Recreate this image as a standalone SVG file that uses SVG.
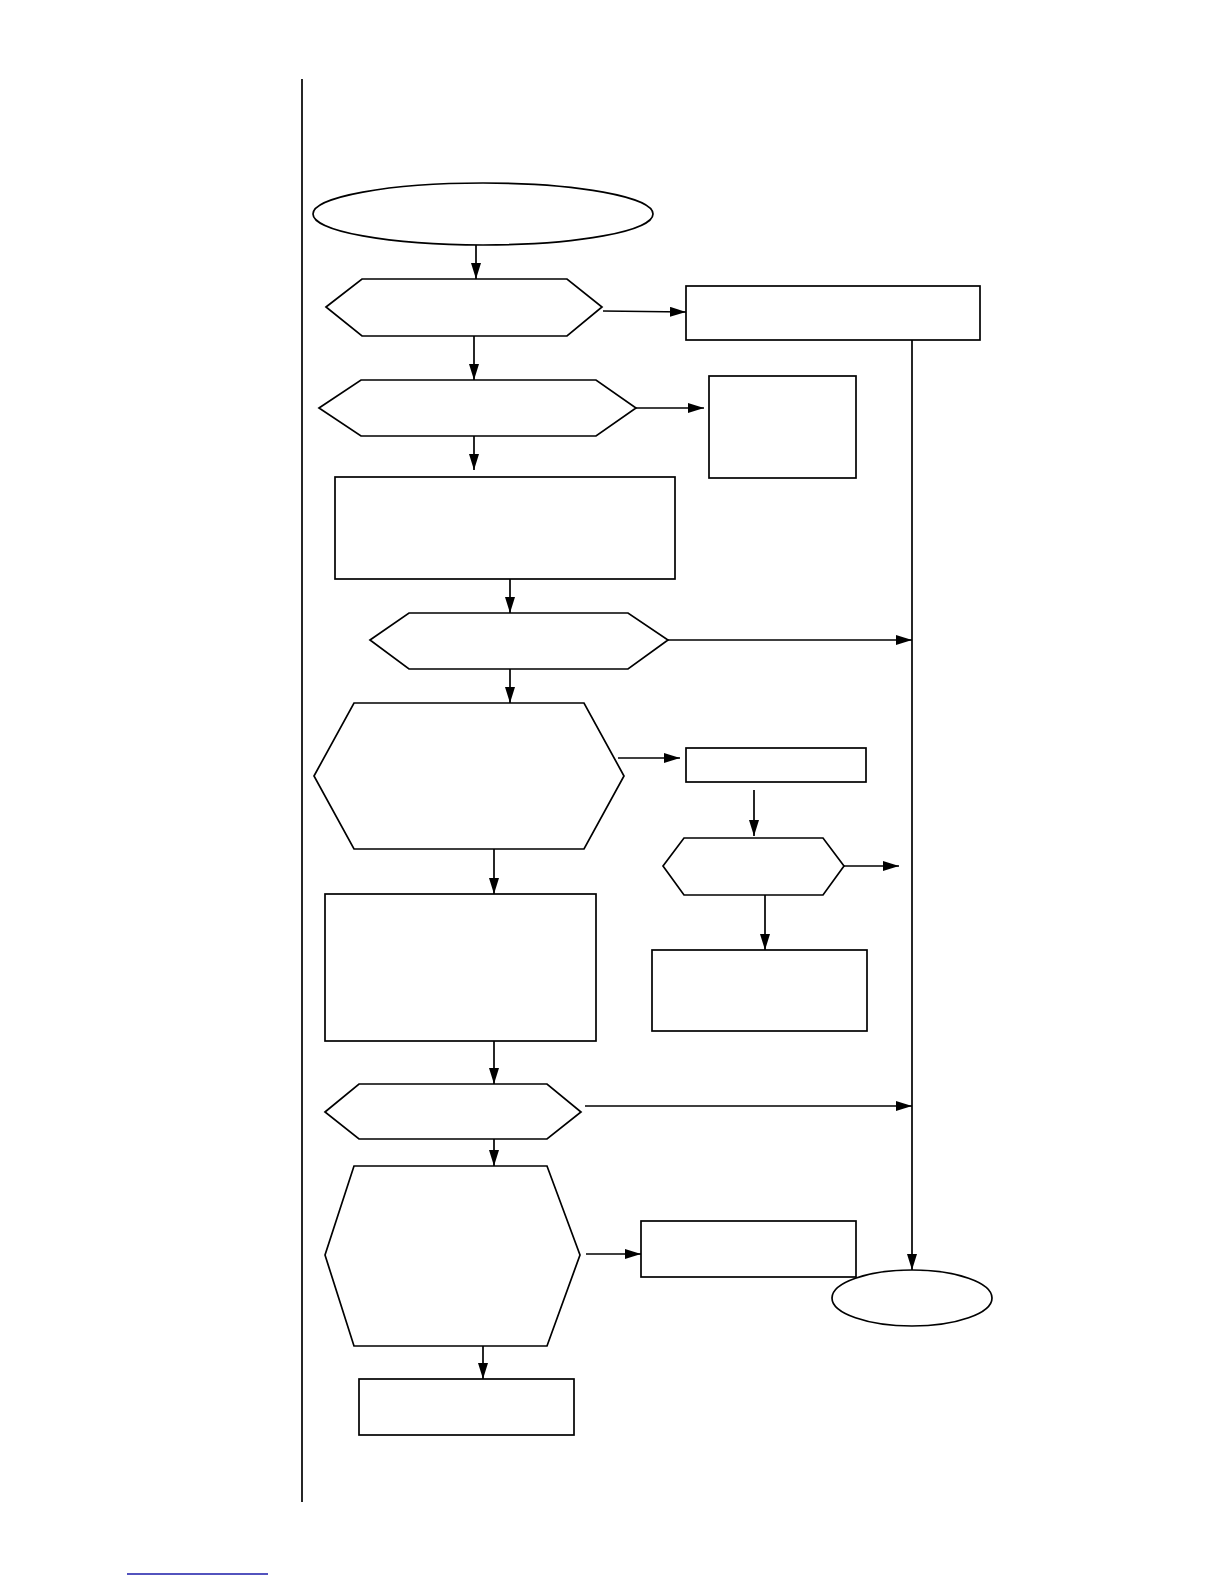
<svg xmlns="http://www.w3.org/2000/svg" width="1224" height="1584" viewBox="0 0 1224 1584">
<style>
.n{fill:#fff;stroke:#000;stroke-width:1.7}
.c{fill:none;stroke:#000;stroke-width:1.7}
</style>
<defs>
<marker id="ah" markerUnits="userSpaceOnUse" markerWidth="18" markerHeight="12" refX="16" refY="5" orient="auto">
<path d="M0,0 L16,5 L0,10 z" fill="#000"/>
</marker>
</defs>
<rect width="1224" height="1584" fill="#fff"/>
<line x1="302" y1="79" x2="302" y2="1502" stroke="#000" stroke-width="1.7"/>
<line x1="127" y1="1574" x2="268" y2="1574" stroke="#1a1aa8" stroke-width="1.3"/>

<g id="start"><ellipse class="n" cx="483" cy="214" rx="170" ry="31"/></g>
<g id="d1"><polygon class="n" points="326,307 362,279 567,279 602,307 567,336 362,336"/></g>
<g id="r1"><rect class="n" x="686" y="286" width="294" height="54"/></g>
<g id="d2"><polygon class="n" points="319,408 361,380 596,380 636,408 596,436 361,436"/></g>
<g id="r2"><rect class="n" x="709" y="376" width="147" height="102"/></g>
<g id="r3"><rect class="n" x="335" y="477" width="340" height="102"/></g>
<g id="d3"><polygon class="n" points="370,640 409,613 628,613 668,640 628,669 409,669"/></g>
<g id="d4"><polygon class="n" points="314,776 354,703 584,703 624,776 584,849 354,849"/></g>
<g id="r4"><rect class="n" x="686" y="748" width="180" height="34"/></g>
<g id="d5"><polygon class="n" points="663,866 684,838 823,838 844,866 823,895 684,895"/></g>
<g id="r5"><rect class="n" x="652" y="950" width="215" height="81"/></g>
<g id="r6"><rect class="n" x="325" y="894" width="271" height="147"/></g>
<g id="d6"><polygon class="n" points="325,1112 359,1084 547,1084 581,1112 547,1139 359,1139"/></g>
<g id="d7"><polygon class="n" points="325,1255 354,1166 547,1166 580,1255 547,1346 354,1346"/></g>
<g id="r7"><rect class="n" x="641" y="1221" width="215" height="56"/></g>
<g id="r8"><rect class="n" x="359" y="1379" width="215" height="56"/></g>
<g id="end"><ellipse class="n" cx="912" cy="1298" rx="80" ry="28"/></g>

<g id="connectors">
<line class="c" x1="476" y1="245" x2="476" y2="279" marker-end="url(#ah)"/>
<line class="c" x1="603" y1="311" x2="686" y2="312" marker-end="url(#ah)"/>
<line class="c" x1="912" y1="340" x2="912" y2="1270" marker-end="url(#ah)"/>
<line class="c" x1="474" y1="336" x2="474" y2="380" marker-end="url(#ah)"/>
<line class="c" x1="636" y1="408" x2="704" y2="408" marker-end="url(#ah)"/>
<line class="c" x1="474" y1="436" x2="474" y2="470" marker-end="url(#ah)"/>
<line class="c" x1="510" y1="579" x2="510" y2="613" marker-end="url(#ah)"/>
<line class="c" x1="668" y1="640" x2="912" y2="640" marker-end="url(#ah)"/>
<line class="c" x1="510" y1="669" x2="510" y2="703" marker-end="url(#ah)"/>
<line class="c" x1="618" y1="758" x2="680" y2="758" marker-end="url(#ah)"/>
<line class="c" x1="754" y1="790" x2="754" y2="836" marker-end="url(#ah)"/>
<line class="c" x1="844" y1="866" x2="899" y2="866" marker-end="url(#ah)"/>
<line class="c" x1="765" y1="895" x2="765" y2="950" marker-end="url(#ah)"/>
<line class="c" x1="494" y1="849" x2="494" y2="894" marker-end="url(#ah)"/>
<line class="c" x1="494" y1="1041" x2="494" y2="1084" marker-end="url(#ah)"/>
<line class="c" x1="585" y1="1106" x2="912" y2="1106" marker-end="url(#ah)"/>
<line class="c" x1="494" y1="1139" x2="494" y2="1166" marker-end="url(#ah)"/>
<line class="c" x1="586" y1="1254" x2="641" y2="1254" marker-end="url(#ah)"/>
<line class="c" x1="483" y1="1346" x2="483" y2="1379" marker-end="url(#ah)"/>
</g>
</svg>
